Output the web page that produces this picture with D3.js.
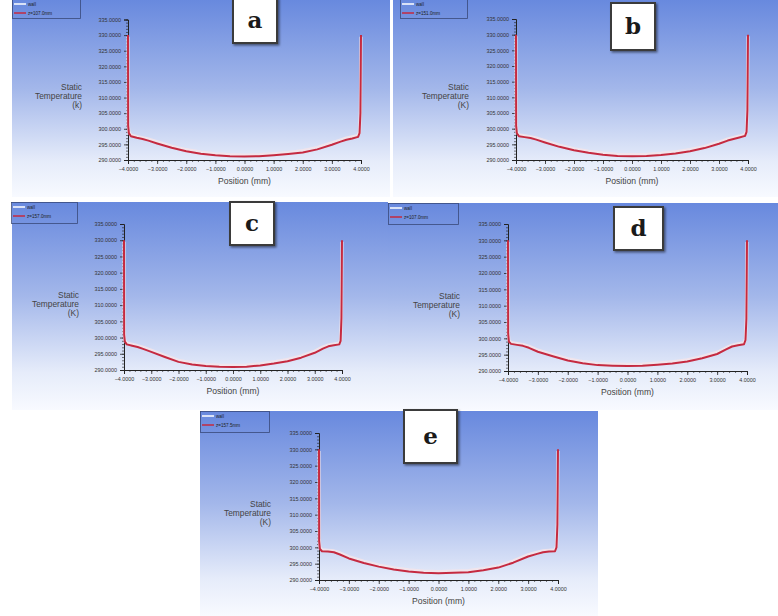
<!DOCTYPE html>
<html><head><meta charset="utf-8">
<script src="https://cdn.jsdelivr.net/npm/d3@7"></script>
<style>body{margin:0;background:#fff}svg{display:block}</style>
</head><body>
<svg id="c" width="778" height="616"></svg>
<script>
// ---------- data ----------
const xPos = [-4.0, -3.995, -3.97, -3.9, -3.7, -3.5, -3.3, -3.0, -2.5, -2.0, -1.5, -1.0, -0.5, 0.0, 0.5, 1.0, 1.5, 2.0, 2.5, 3.0, 3.3, 3.5, 3.7, 3.9, 3.95, 3.98, 4.0];
const tempA = [330, 301, 298.6, 297.6, 297.1, 296.7, 296.2, 295.3, 293.9, 292.8, 292.0, 291.5, 291.2, 291.1, 291.2, 291.5, 291.9, 292.4, 293.4, 294.9, 295.9, 296.5, 296.9, 297.4, 298.6, 305, 330];
const tempB = [330, 301, 298.5, 297.6, 297.3, 297.0, 296.5, 295.6, 294.2, 293.1, 292.3, 291.7, 291.3, 291.2, 291.3, 291.6, 292.1, 292.8, 293.8, 295.2, 296.2, 296.7, 297.2, 297.7, 299.0, 306, 330];
const tempC = [330, 301, 298.8, 297.9, 297.5, 297.1, 296.5, 295.6, 294.0, 292.5, 291.7, 291.2, 291.0, 290.9, 291.0, 291.4, 292.0, 292.7, 293.8, 295.3, 296.6, 297.3, 297.6, 297.9, 299.0, 306, 330];
const tempD = [330, 301.5, 299.0, 298.3, 298.0, 297.7, 297.1, 295.9, 294.5, 293.2, 292.4, 291.8, 291.6, 291.5, 291.6, 291.9, 292.3, 292.9, 293.9, 295.2, 296.6, 297.5, 297.9, 298.2, 299.5, 306, 330];
const tempE = [330, 302, 299.5, 298.8, 298.7, 298.5, 297.8, 296.6, 295.2, 294.1, 293.2, 292.6, 292.2, 292.1, 292.2, 292.4, 293.0, 293.8, 295.3, 297.2, 298.0, 298.5, 298.7, 298.8, 300.0, 307, 330];
const wallA = [329.5, 301.5, 299.0, 298.0, 297.5, 297.1, 296.7, 295.8, 294.4, 293.3, 292.5, 292.0, 291.7, 291.6, 291.7, 292.0, 292.4, 293.0, 294.0, 295.5, 296.4, 297.0, 297.4, 297.8, 299.0, 306, 329.5];
const wallB = [329.5, 301.5, 298.9, 298.0, 297.7, 297.4, 297.0, 296.1, 294.7, 293.6, 292.8, 292.2, 291.8, 291.7, 291.8, 292.1, 292.6, 293.3, 294.3, 295.7, 296.7, 297.2, 297.6, 298.1, 299.4, 307, 329.5];
const wallC = [329.5, 301.5, 299.2, 298.3, 297.9, 297.5, 297.0, 296.1, 294.5, 293.0, 292.2, 291.7, 291.5, 291.4, 291.5, 291.9, 292.5, 293.2, 294.3, 295.8, 297.1, 297.7, 298.0, 298.3, 299.4, 307, 329.5];
const wallD = [329.5, 302.0, 299.4, 298.7, 298.4, 298.1, 297.6, 296.4, 295.0, 293.7, 292.9, 292.3, 292.1, 292.0, 292.1, 292.4, 292.8, 293.4, 294.4, 295.7, 297.1, 297.9, 298.3, 298.6, 299.9, 307, 329.5];
const wallE = [329.5, 302.5, 299.9, 299.2, 299.1, 298.9, 298.3, 297.1, 295.7, 294.6, 293.7, 293.1, 292.7, 292.6, 292.7, 292.9, 293.5, 294.3, 295.8, 297.7, 298.5, 298.9, 299.1, 299.2, 300.4, 308, 329.5];
const panelLetters = ["a", "b", "c", "d", "e"];
const zLabels = ["z=107.0mm", "z=151.0mm", "z=157.0mm", "z=107.0mm", "z=157.5mm"];
const wallLabel = "wall";
const yUnits = ["(k)", "(K)", "(K)", "(K)", "(K)"];
const yTickValues = [290, 295, 300, 305, 310, 315, 320, 325, 330, 335];
const xTickValues = [-4, -3, -2, -1, 0, 1, 2, 3, 4];
const yMinorTicks = d3.range(290, 336, 1);
const xMinorTicks = d3.range(-4, 4.001, 0.2);
const temps = [tempA, tempB, tempC, tempD, tempE];
const walls = [wallA, wallB, wallC, wallD, wallE];

// ---------- layout ----------
const layout = [
  {bg:[12,0,378,197], x0:128, x1:361, yT:19.5, yB:160, box:[233,-2,44,45], leg:[12,-1,68,19], ylab:[82,90]},
  {bg:[393,0,385,197], x0:516, x1:748, yT:19, yB:160, box:[611,3,44,47], leg:[400,-1,67,19], ylab:[469,90]},
  {bg:[12,202,376,208], x0:124, x1:342, yT:224, yB:370, box:[230,202,44,43], leg:[11,202,66,21], ylab:[79,298]},
  {bg:[388,203,390,207], x0:508, x1:747, yT:224, yB:371, box:[614,207,49,43], leg:[388,203,70,21], ylab:[460,299]},
  {bg:[200,411,398,205], x0:319, x1:558, yT:433, yB:580, box:[404,410,53,53], leg:[200,411,69,21], ylab:[271,507]}
];

const svg = d3.select("#c");
const defs = svg.append("defs");
const grad = defs.append("linearGradient").attr("id","bgG").attr("x1",0).attr("y1",0).attr("x2",0).attr("y2",1);
grad.append("stop").attr("offset","0%").attr("stop-color","#6889de");
grad.append("stop").attr("offset","45%").attr("stop-color","#a3b7ea");
grad.append("stop").attr("offset","82%").attr("stop-color","#e6ecfa");
grad.append("stop").attr("offset","100%").attr("stop-color","#f8faff");
const sh = defs.append("filter").attr("id","sh").attr("x","-20%").attr("y","-20%").attr("width","150%").attr("height","150%");
sh.append("feDropShadow").attr("dx",1.5).attr("dy",1.5).attr("stdDeviation",1).attr("flood-color","#000").attr("flood-opacity",0.5);

layout.forEach((L, i) => {
  const g = svg.append("g");
  g.append("rect").attr("x",L.bg[0]).attr("y",L.bg[1]).attr("width",L.bg[2]).attr("height",L.bg[3]).attr("fill","url(#bgG)");

  const x = d3.scaleLinear().domain([-4,4]).range([L.x0, L.x1]);
  const y = d3.scaleLinear().domain([290,335]).range([L.yB, L.yT]);

  // minor ticks
  g.append("g").attr("transform",`translate(${L.x0},0)`)
    .call(d3.axisLeft(y).tickValues(yMinorTicks).tickSize(2).tickFormat(""))
    .call(s=>{s.select(".domain").remove(); s.selectAll("line").attr("stroke","#222").attr("stroke-width",0.6);});
  g.append("g").attr("transform",`translate(0,${L.yB})`)
    .call(d3.axisBottom(x).tickValues(xMinorTicks).tickSize(2).tickFormat(""))
    .call(s=>{s.select(".domain").remove(); s.selectAll("line").attr("stroke","#222").attr("stroke-width",0.6);});

  // major axes
  const ya = g.append("g").attr("transform",`translate(${L.x0},0)`)
    .call(d3.axisLeft(y).tickValues(yTickValues).tickSize(4).tickPadding(3).tickFormat(d3.format(".4f")));
  const xa = g.append("g").attr("transform",`translate(0,${L.yB})`)
    .call(d3.axisBottom(x).tickValues(xTickValues).tickSize(4).tickPadding(3).tickFormat(d3.format(".4f")));
  [ya, xa].forEach(a => {
    a.select(".domain").attr("stroke","#222").attr("stroke-width",1);
    a.selectAll("line").attr("stroke","#222").attr("stroke-width",0.8);
    a.selectAll("text").attr("font-family","Liberation Sans, Arial, sans-serif").attr("font-size",5.4).attr("fill","#333");
  });

  // lines
  const line = d3.line().x((d,j)=>x(xPos[j])).y(d=>y(d));
  g.append("path").datum(walls[i]).attr("d",line).attr("fill","none")
    .attr("stroke","#f3e4ea").attr("stroke-width",3.2).attr("stroke-linejoin","round").attr("opacity",0.9);
  g.append("path").datum(temps[i]).attr("d",line).attr("fill","none")
    .attr("stroke","#c52a40").attr("stroke-width",2).attr("stroke-linejoin","round");

  // axis titles
  g.append("text").attr("x",(L.x0+L.x1)/2).attr("y",L.yB+24).attr("text-anchor","middle")
    .attr("font-family","Liberation Sans, Arial, sans-serif").attr("font-size",8.6).attr("fill","#444").text("Position (mm)");
  ["Static","Temperature",yUnits[i]].forEach((t,k)=>{
    g.append("text").attr("x",L.ylab[0]).attr("y",L.ylab[1]+k*9).attr("text-anchor","end")
      .attr("font-family","Liberation Sans, Arial, sans-serif").attr("font-size",8.4).attr("fill","#444").text(t);
  });

  // legend
  const lg = g.append("g");
  lg.append("rect").attr("x",L.leg[0]+0.5).attr("y",L.leg[1]+0.5).attr("width",L.leg[2]).attr("height",L.leg[3])
    .attr("fill","none").attr("stroke","#3a4a7a").attr("stroke-width",0.8);
  const lx = L.leg[0]+2, ly1 = L.leg[1]+5, ly2 = L.leg[1]+14;
  lg.append("line").attr("x1",lx).attr("x2",lx+12).attr("y1",ly1).attr("y2",ly1).attr("stroke","#fff").attr("stroke-width",1.5);
  lg.append("line").attr("x1",lx).attr("x2",lx+12).attr("y1",ly2).attr("y2",ly2).attr("stroke","#c52a40").attr("stroke-width",1.5);
  lg.append("text").attr("x",lx+14).attr("y",ly1+1.8).attr("font-family","Liberation Sans, Arial, sans-serif").attr("font-size",4.6).attr("fill","#222").text(wallLabel);
  lg.append("text").attr("x",lx+14).attr("y",ly2+1.8).attr("font-family","Liberation Sans, Arial, sans-serif").attr("font-size",4.6).attr("fill","#222").text(zLabels[i]);

  // panel letter box
  g.append("rect").attr("x",L.box[0]).attr("y",L.box[1]).attr("width",L.box[2]).attr("height",L.box[3])
    .attr("fill","#fff").attr("stroke","#3a3a3a").attr("stroke-width",2).attr("filter","url(#sh)");
  g.append("text").attr("x",L.box[0]+L.box[2]/2).attr("y",L.box[1]+L.box[3]/2+7)
    .attr("text-anchor","middle").attr("font-family","DejaVu Serif, Liberation Serif, serif").attr("font-weight","600")
    .attr("font-size",23).attr("fill","#1a1a1a").text(panelLetters[i]);
});
</script>
</body></html>
